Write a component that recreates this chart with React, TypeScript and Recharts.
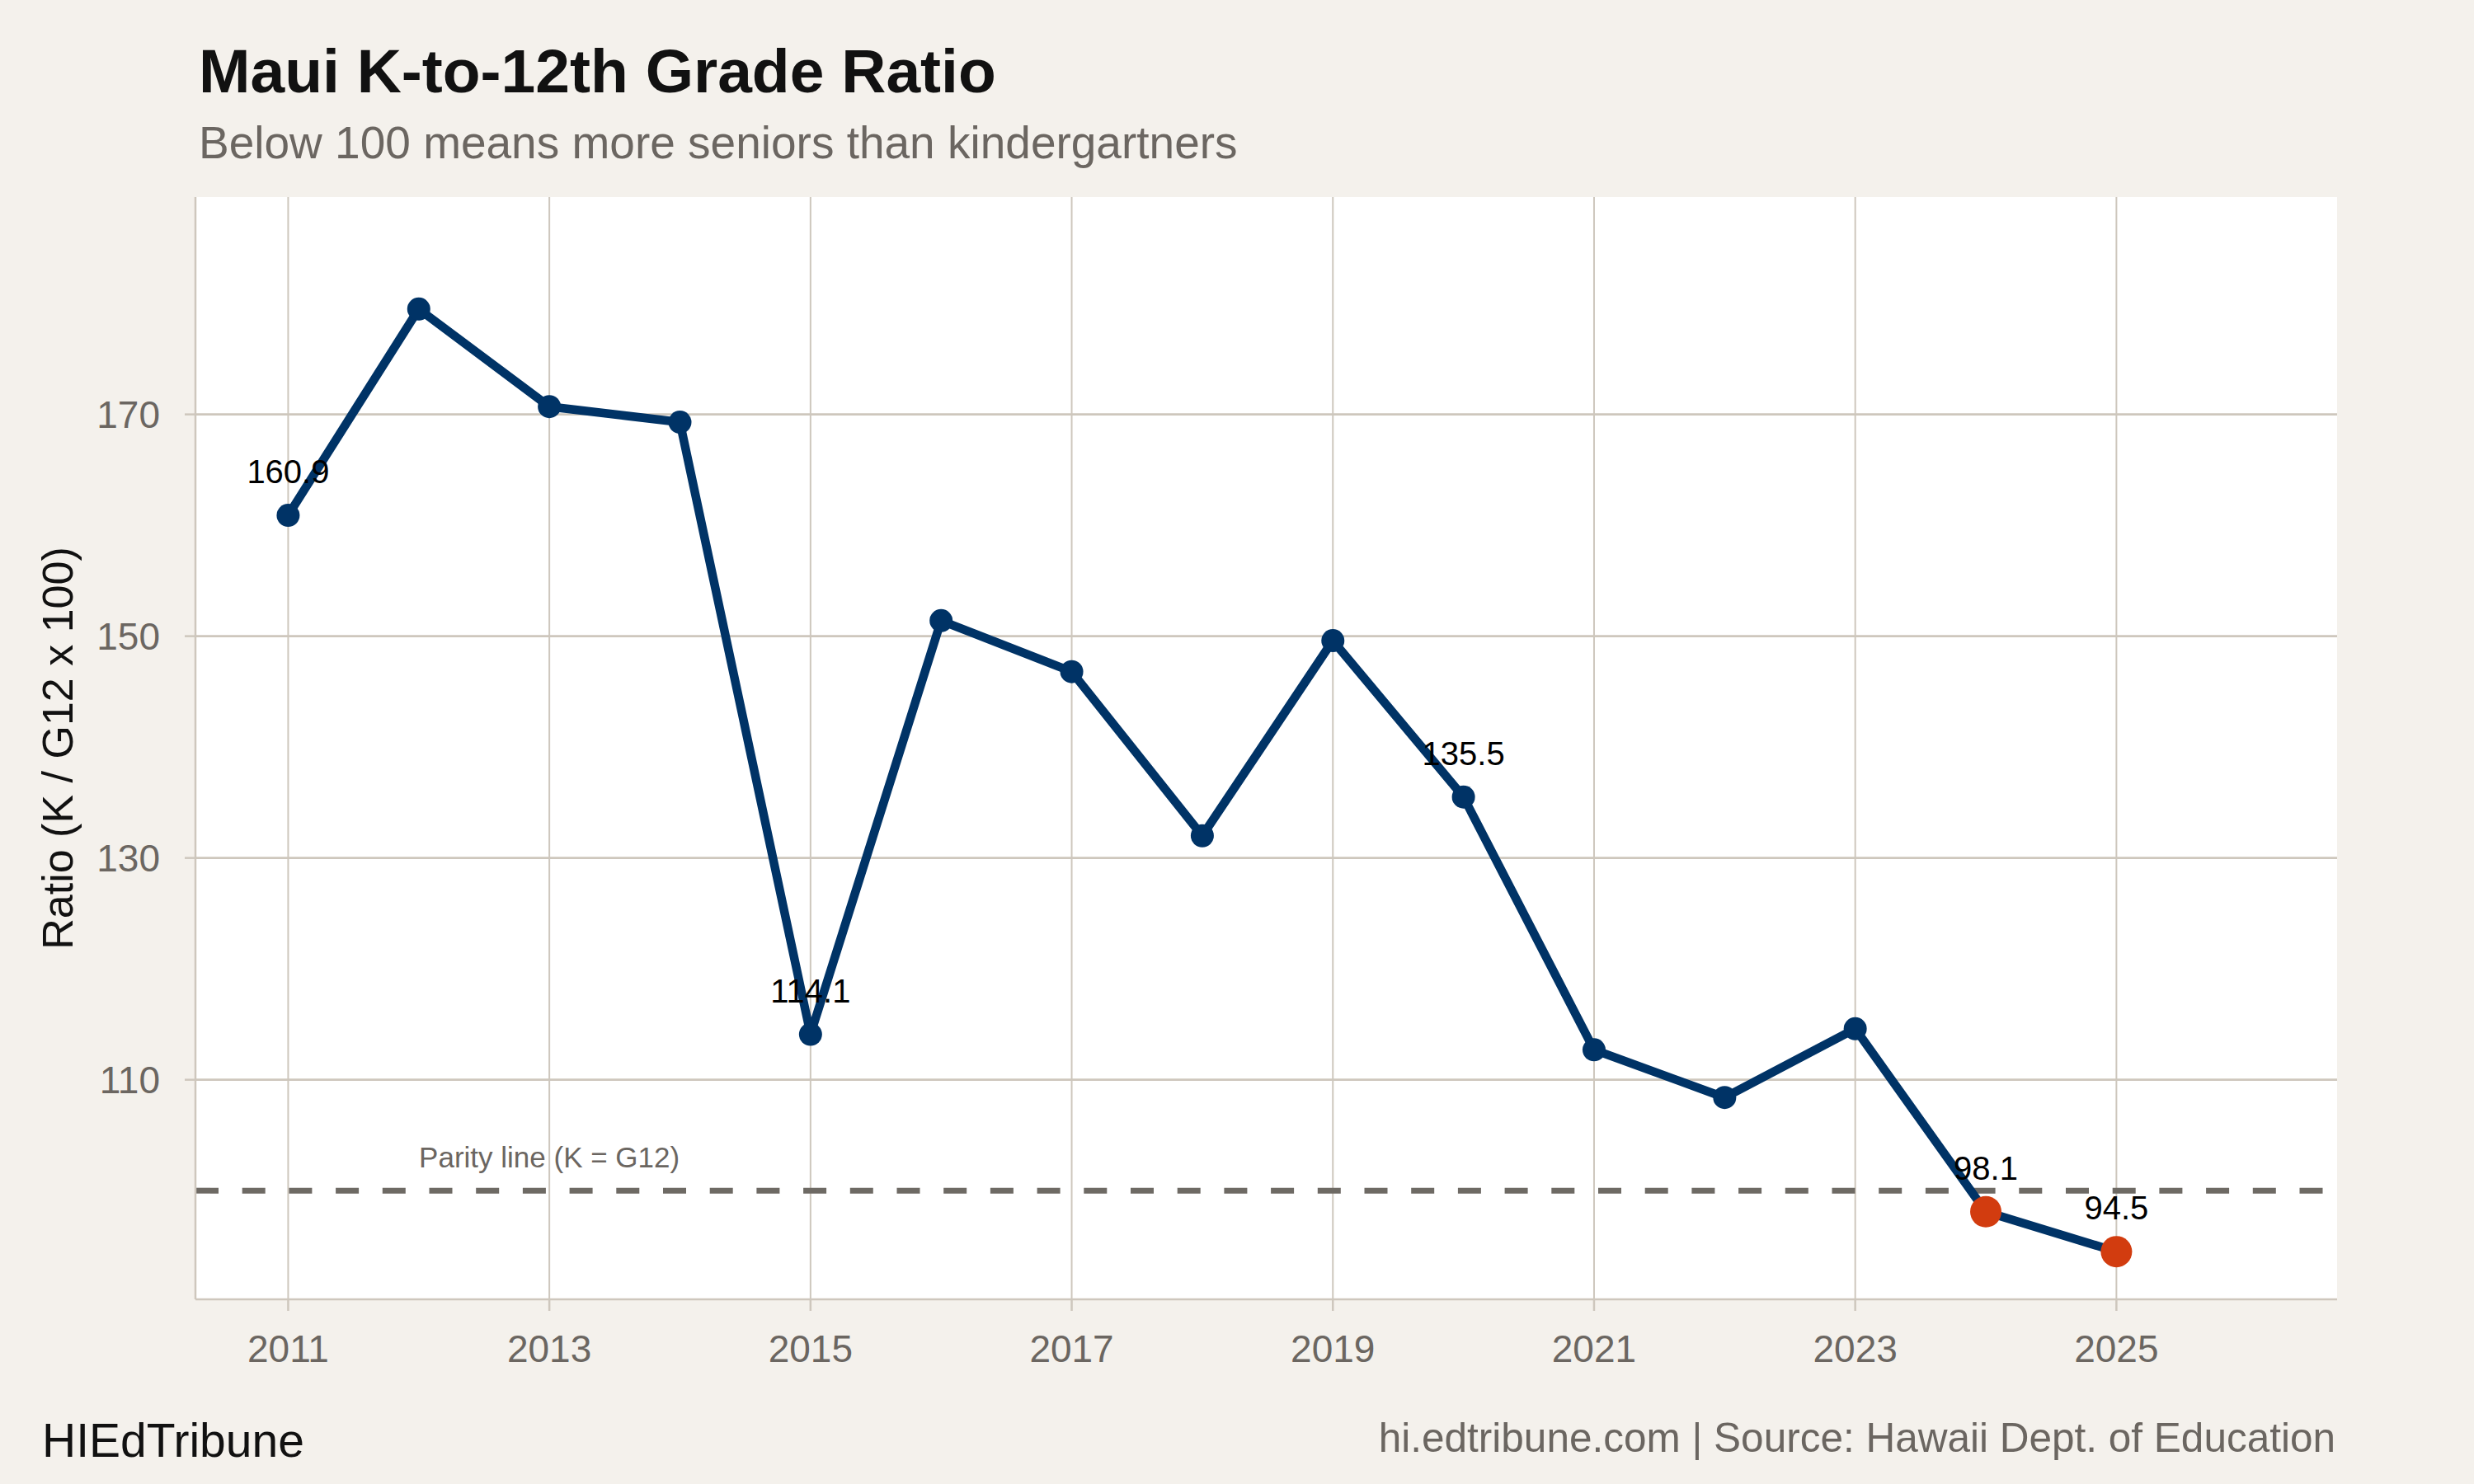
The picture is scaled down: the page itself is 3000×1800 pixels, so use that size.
import {
  LineChart,
  Line,
  XAxis,
  YAxis,
  CartesianGrid,
  ReferenceLine,
  ReferenceDot,
  LabelList,
} from "recharts";

const years = [2011, 2012, 2013, 2014, 2015, 2016, 2017, 2018, 2019, 2020, 2021, 2022, 2023, 2024, 2025];
const ratios = [160.9, 179.5, 170.7, 169.3, 114.1, 151.4, 146.8, 132.0, 149.6, 135.5, 112.7, 108.4, 114.6, 98.1, 94.5];
const labeledYears = [2011, 2015, 2020, 2024, 2025];
const highlightYears = [2024, 2025];
const xTicks = [2011, 2013, 2015, 2017, 2019, 2021, 2023, 2025];
const yTicks = [110, 130, 150, 170];
const parity = 100;

const BG = "#F4F1EC";
const GRID = "#CEC7BD";
const NAVY = "#003366";
const ORANGE = "#D23C0F";
const MUTED = "#6B6661";
const FONT = "'Liberation Sans', Arial, Helvetica, sans-serif";

const rows = years.map((year, i) => ({
  year,
  ratio: ratios[i],
  label: labeledYears.includes(year) ? ratios[i].toFixed(1) : null,
}));

const renderDot = (props: any) => {
  const { cx, cy, payload, index } = props;
  const hot = highlightYears.includes(payload.year);
  return (
    <circle
      key={`dot-${index}`}
      cx={cx}
      cy={cy}
      r={hot ? 19 : 14}
      fill={hot ? ORANGE : NAVY}
    />
  );
};

export default function App() {
  return (
    <div
      style={{
        position: "absolute",
        left: 0,
        top: 0,
        width: 3000,
        height: 1800,
        background: BG,
        fontFamily: FONT,
      }}
    >
      <LineChart
        width={3000}
        height={1800}
        data={rows}
        margin={{ top: 239, right: 166, bottom: 144, left: 137 }}
        style={{ fontFamily: FONT }}
      >
        <CartesianGrid
          horizontal
          vertical={false}
          syncWithTicks
          stroke={GRID}
          strokeWidth={2.7}
          fill="#FFFFFF"
        />
        <CartesianGrid horizontal={false} vertical syncWithTicks stroke={GRID} strokeWidth={2} />
        <XAxis
          type="number"
          dataKey="year"
          domain={[2010.29, 2026.69]}
          allowDataOverflow
          ticks={xTicks}
          interval={0}
          height={80}
          tickSize={14}
          tickMargin={29}
          axisLine={{ stroke: GRID, strokeWidth: 2.7 }}
          tickLine={{ stroke: GRID, strokeWidth: 2.5 }}
          tick={{ fill: MUTED, fontSize: 46, fontFamily: FONT }}
        />
        <YAxis
          type="number"
          domain={[90.2, 189.6]}
          allowDataOverflow
          ticks={yTicks}
          interval={0}
          width={100}
          tickSize={13}
          tickMargin={30}
          axisLine={{ stroke: GRID, strokeWidth: 2.5 }}
          tickLine={{ stroke: GRID, strokeWidth: 2.5 }}
          tick={{ fill: MUTED, fontSize: 46, fontFamily: FONT }}
        />
        <ReferenceLine
          y={parity}
          stroke="#6E6A64"
          strokeWidth={7}
          strokeDasharray="28 28.7"
        />
        <ReferenceDot
          x={2013}
          y={parity}
          r={0}
          fill="none"
          stroke="none"
          label={{
            value: "Parity line (K = G12)",
            position: "top",
            offset: 28,
            fill: MUTED,
            fontSize: 35,
            fontFamily: FONT,
          }}
        />
        <Line
          type="linear"
          dataKey="ratio"
          stroke={NAVY}
          strokeWidth={10.5}
          strokeLinejoin="round"
          dot={renderDot}
          activeDot={false}
          isAnimationActive={false}
        >
          <LabelList
            dataKey="label"
            position="top"
            offset={39}
            fill="#000000"
            fontSize={40}
            fontFamily={FONT}
          />
        </Line>
      </LineChart>
      <svg
        width={3000}
        height={1800}
        style={{ position: "absolute", left: 0, top: 0, pointerEvents: "none" }}
        fontFamily={FONT}
      >
        <text x={241} y={112} fontSize={75} fontWeight="bold" fill="#111111">
          Maui K-to-12th Grade Ratio
        </text>
        <text x={241} y={192} fontSize={55} fill={MUTED}>
          Below 100 means more seniors than kindergartners
        </text>
        <text
          x={88}
          y={907.5}
          fontSize={52}
          fill="#111111"
          textAnchor="middle"
          transform="rotate(-90 88 907.5)"
        >
          Ratio (K / G12 x 100)
        </text>
        <text x={51} y={1767} fontSize={57} fill="#111111">
          HIEdTribune
        </text>
        <text x={2832} y={1761} fontSize={49.5} fill={MUTED} textAnchor="end">
          hi.edtribune.com | Source: Hawaii Dept. of Education
        </text>
      </svg>
    </div>
  );
}
